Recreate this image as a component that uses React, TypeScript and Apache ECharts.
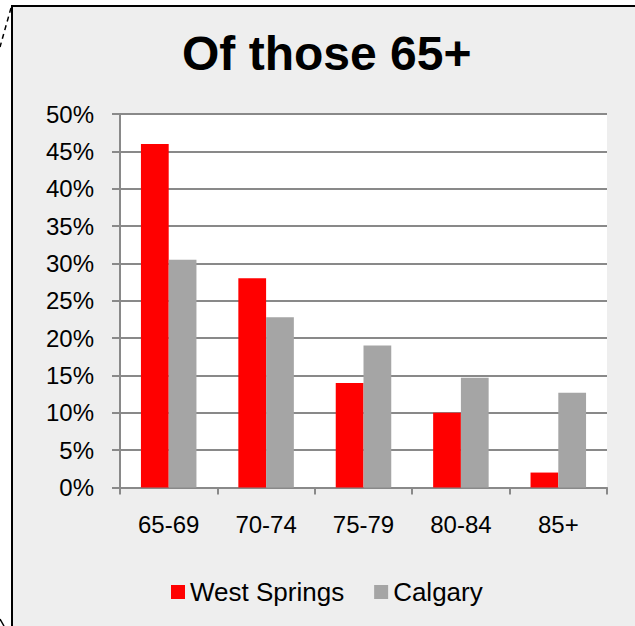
import React, { useEffect, useRef } from "react";
import * as echarts from "echarts";

const categories = ["65-69", "70-74", "75-79", "80-84", "85+"];
const westSprings = [46, 28, 14, 10, 2];
const calgary = [30.5, 22.8, 19, 14.7, 12.7];
const seriesNames = ["West Springs", "Calgary"];
const titleText = "Of those 65+";

const FONT = "'Liberation Sans', Arial, sans-serif";
const GRID_COLOR = "#898989";

export default function App() {
  const ref = useRef<HTMLDivElement>(null);
  useEffect(() => {
    if (!ref.current) return;
    const chart = echarts.init(ref.current, null, { renderer: "svg" });
    chart.setOption({
      animation: false,
      backgroundColor: "#eeeeee",
      title: {
        text: titleText,
        left: 182,
        top: 29,
        padding: 0,
        textStyle: { fontFamily: FONT, fontSize: 48, fontWeight: "bold", color: "#000" },
      },
      legend: {
        data: seriesNames,
        left: 166,
        top: 574,
        icon: "rect",
        itemWidth: 14,
        itemHeight: 14,
        itemGap: 30,
        textStyle: { fontFamily: FONT, fontSize: 26, color: "#000" },
      },
      grid: {
        left: 120,
        right: 28,
        top: 114,
        bottom: 138.5,
        show: true,
        backgroundColor: "#ffffff",
        borderWidth: 0,
      },
      xAxis: {
        type: "category",
        data: categories,
        boundaryGap: true,
        axisLine: { show: true, lineStyle: { color: GRID_COLOR, width: 2 } },
        axisTick: { show: true, length: 7, lineStyle: { color: GRID_COLOR, width: 2 } },
        axisLabel: { margin: 25, fontFamily: FONT, fontSize: 24, color: "#000" },
      },
      yAxis: {
        type: "value",
        min: 0,
        max: 50,
        interval: 5,
        axisLine: { show: true, lineStyle: { color: GRID_COLOR, width: 2 } },
        axisTick: { show: true, length: 8, lineStyle: { color: GRID_COLOR, width: 2 } },
        axisLabel: { margin: 26, formatter: "{value}%", fontFamily: FONT, fontSize: 24, color: "#000" },
        splitLine: { show: true, lineStyle: { color: GRID_COLOR, width: 2 } },
      },
      series: [
        {
          name: seriesNames[0],
          type: "bar",
          data: westSprings,
          barGap: "0%",
          barCategoryGap: "43%",
          itemStyle: { color: "#ff0000" },
        },
        {
          name: seriesNames[1],
          type: "bar",
          data: calgary,
          barGap: "0%",
          barCategoryGap: "43%",
          itemStyle: { color: "#a5a5a5" },
        },
      ],
      graphic: [
        { type: "rect", shape: { x: 0, y: 0, width: 635, height: 5 }, style: { fill: "#ffffff" }, z: 100 },
        { type: "rect", shape: { x: 0, y: 0, width: 11, height: 626 }, style: { fill: "#ffffff" }, z: 100 },
        { type: "line", shape: { x1: 12, y1: 6, x2: 635, y2: 6 }, style: { stroke: "#000", lineWidth: 2 }, z: 101 },
        { type: "line", shape: { x1: 12, y1: 5, x2: 12, y2: 626 }, style: { stroke: "#000", lineWidth: 2 }, z: 101 },
        { type: "line", shape: { x1: 11, y1: 8, x2: 0, y2: 47 }, style: { stroke: "#000", lineWidth: 1.5, lineDash: [5, 4] }, z: 101 },
        { type: "line", shape: { x1: 0, y1: 619, x2: 4, y2: 626 }, style: { stroke: "#000", lineWidth: 1.5 }, z: 101 },
      ],
    });
    return () => chart.dispose();
  }, []);
  return <div ref={ref} style={{ position: "fixed", left: 0, top: 0, width: 635, height: 626 }} />;
}
